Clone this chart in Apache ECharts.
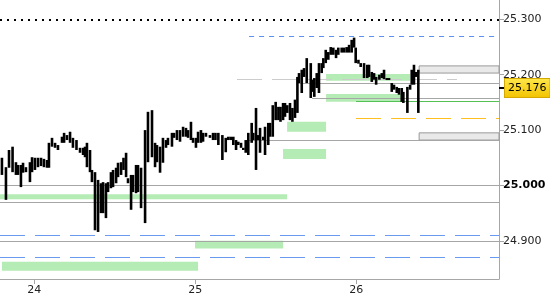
<!DOCTYPE html>
<html><head><meta charset="utf-8">
<script src="https://cdn.jsdelivr.net/npm/echarts@6/dist/echarts.min.js"></script>
<style>html,body{margin:0;padding:0;background:#fff}#c{width:550px;height:300px}</style>
</head><body><div id="c"></div>
<script>
// ---- data ----
const barTimes = [23.799,23.824,23.843,23.865,23.886,23.899,23.917,23.930,23.948,23.973,
23.986,24.004,24.023,24.042,24.060,24.079,24.091,24.110,24.129,24.147,
24.172,24.185,24.203,24.222,24.240,24.262,24.284,24.303,24.315,24.327,
24.346,24.358,24.377,24.396,24.414,24.427,24.445,24.458,24.476,24.489,
24.508,24.520,24.539,24.554,24.570,24.582,24.601,24.613,24.632,24.644,
24.663,24.688,24.706,24.731,24.750,24.762,24.781,24.799,24.818,24.830,
24.855,24.868,24.886,24.905,24.924,24.942,24.955,24.973,24.986,25.004,
25.017,25.035,25.048,25.066,25.091,25.110,25.125,25.143,25.168,25.189,
25.205,25.220,25.236,25.253,25.267,25.284,25.298,25.313,25.329,25.350,
25.360,25.377,25.391,25.402,25.422,25.433,25.453,25.464,25.481,25.499,
25.516,25.529,25.545,25.557,25.571,25.588,25.603,25.619,25.634,25.644,
25.661,25.675,25.692,25.717,25.727,25.739,25.754,25.768,25.785,25.795,
25.810,25.826,25.841,25.857,25.874,25.888,25.909,25.924,25.940,25.955,
25.971,25.986,25.996,26.013,26.027,26.048,26.068,26.079,26.096,26.110,
26.123,26.143,26.158,26.172,26.189,26.203,26.220,26.234,26.251,26.265,
26.282,26.292,26.317,26.334,26.344,26.358,26.371,26.385];
const barHighs = [25.050,25.033,25.064,25.070,25.042,25.037,25.037,25.041,25.033,25.042,
25.051,25.050,25.050,25.050,25.048,25.046,25.077,25.086,25.077,25.073,
25.088,25.095,25.091,25.097,25.086,25.082,25.068,25.068,25.070,25.077,
25.064,25.028,25.024,25.010,25.004,25.006,25.004,25.006,25.024,25.028,
25.032,25.041,25.042,25.050,25.059,25.013,25.019,25.019,25.037,25.037,
25.032,25.100,25.133,25.136,25.077,25.073,25.070,25.086,25.082,25.086,
25.095,25.095,25.100,25.100,25.106,25.104,25.100,25.115,25.086,25.086,
25.097,25.100,25.095,25.095,25.091,25.095,25.095,25.095,25.091,25.086,
25.088,25.088,25.088,25.082,25.079,25.077,25.068,25.082,25.095,25.113,
25.095,25.140,25.091,25.104,25.088,25.106,25.113,25.113,25.145,25.151,
25.142,25.142,25.149,25.149,25.145,25.149,25.140,25.155,25.196,25.203,
25.209,25.212,25.230,25.221,25.191,25.194,25.203,25.221,25.221,25.230,
25.245,25.241,25.250,25.249,25.245,25.249,25.249,25.249,25.250,25.254,
25.263,25.267,25.249,25.227,25.221,25.221,25.218,25.218,25.205,25.203,
25.196,25.200,25.203,25.209,25.194,25.194,25.185,25.182,25.178,25.176,
25.176,25.169,25.178,25.182,25.209,25.218,25.205,25.209];
const barLows = [25.019,24.974,25.032,25.024,25.019,25.019,24.997,25.023,25.024,25.006,
25.024,25.028,25.033,25.035,25.033,25.032,25.032,25.070,25.068,25.064,
25.077,25.077,25.082,25.077,25.068,25.064,25.059,25.055,25.051,25.033,
25.024,25.006,24.919,24.916,24.950,24.950,24.941,24.988,24.995,24.997,
25.004,25.015,25.019,25.028,25.015,25.004,24.956,24.988,24.986,24.988,
24.959,24.932,25.042,25.051,25.033,25.042,25.023,25.041,25.068,25.073,
25.070,25.086,25.082,25.079,25.088,25.088,25.086,25.082,25.077,25.068,
25.077,25.077,25.079,25.088,25.086,25.082,25.082,25.073,25.046,25.060,
25.082,25.082,25.073,25.064,25.073,25.068,25.064,25.059,25.055,25.077,
25.082,25.028,25.082,25.059,25.082,25.055,25.073,25.088,25.088,25.118,
25.118,25.115,25.118,25.124,25.131,25.118,25.115,25.122,25.131,25.185,
25.167,25.196,25.185,25.158,25.169,25.160,25.176,25.167,25.203,25.212,
25.221,25.227,25.236,25.236,25.230,25.236,25.240,25.240,25.240,25.240,
25.240,25.249,25.221,25.220,25.214,25.194,25.194,25.196,25.187,25.191,
25.182,25.191,25.194,25.192,25.191,25.191,25.169,25.173,25.167,25.164,
25.151,25.149,25.131,25.173,25.182,25.182,25.196,25.131];
const lastPrice = 25.176;

const xMin = 23.787, xMax = 26.886, yMin = 24.831, yMax = 25.335;
const dayTicks = [24, 25, 26];
const priceTicks = [24.9, 25.0, 25.1, 25.2, 25.3];

// horizontal levels
const lineLevels = [25.300, 25.270, 25.191, 25.185, 25.158, 25.153, 25.122, 25.082, 25.004, 24.974, 24.968, 24.914, 24.900, 24.867];
const lineStarts = [null, 25.334, 25.259, 25.638, 25.725, 25.998, 25.998, 25.321, null, null, null, null, null, null];
const lineEnds   = [null, 26.861, 26.625, null, null, null, null, null, null, null, null, null, null, null];
const lineKinds  = ['dotted','blueShort','lightDash','gray','gray','green','orange','gray','gray','blue','gray','blue','gray','blue'];

// green zones
const zoneLows   = [25.189, 25.151, 25.097, 25.048, 24.975, 24.886, 24.846];
const zoneHighs  = [25.2015, 25.165, 25.115, 25.066, 24.984, 24.900, 24.862];
const zoneStarts = [25.812, 25.812, 25.570, 25.545, 23.787, 24.998, 23.799];
const zoneEnds   = [26.334, 26.290, 25.812, 25.812, 25.570, 25.545, 25.017];

// grey boxes
const boxLows   = [25.203, 25.082];
const boxHighs  = [25.216, 25.095];
const boxStarts = [26.390, 26.390];

// ---- styles ----
const kindStyles = {
  dotted:   {color:'#000', width:2, type:[2,5]},
  blueShort:{color:'#5b8ff0', width:1, type:[5,5]},
  lightDash:{color:'#cccccc', width:1.2, type:[25,10]},
  gray:     {color:'#a6a6a6', width:1.2, type:'solid'},
  green:    {color:'#55c055', width:1, type:'solid'},
  orange:   {color:'#ffbf1f', width:1.2, type:[25,10]},
  blue:     {color:'#6a9af0', width:1.2, type:[25,10]}
};

const markLineData = lineLevels.map((v, i) => {
  const ls = kindStyles[lineKinds[i]];
  const style = {color: ls.color, width: ls.width, type: ls.type};
  if (lineStarts[i] === null && lineEnds[i] === null) {
    return {yAxis: v, lineStyle: style};
  }
  return [
    {coord: [lineStarts[i] === null ? xMin : lineStarts[i], v], lineStyle: style},
    {coord: [lineEnds[i] === null ? xMax : lineEnds[i], v]}
  ];
});

const markAreaData = zoneLows.map((lo, i) => [
  {coord: [zoneStarts[i], zoneHighs[i]], itemStyle: {color: '#b5ebb5'}},
  {coord: [zoneEnds[i], lo]}
]).concat(boxLows.map((lo, i) => [
  {coord: [boxStarts[i], boxHighs[i]], itemStyle: {color: '#e9e9e9', borderColor: '#9a9a9a', borderWidth: 1}},
  {coord: [xMax, lo]}
]));

const bars = barTimes.map((t, i) => [t, barLows[i], barHighs[i]]);

const chart = echarts.init(document.getElementById('c'), null, {renderer: 'canvas'});
const font = 'DejaVu Sans';
chart.setOption({
  animation: false,
  backgroundColor: '#fff',
  grid: {left: 0, right: 51, top: 0, bottom: 21, containLabel: false},
  xAxis: {
    type: 'value', min: xMin, max: xMax,
    axisLine: {show: true, lineStyle: {color: '#a6a6a6', width: 1}},
    axisTick: {show: true, length: 5, lineStyle: {color: '#a6a6a6'}, customValues: dayTicks},
    axisLabel: {customValues: dayTicks, color: '#222', fontFamily: font, fontSize: 11, margin: 6,
      formatter: v => String(Math.round(v))},
    splitLine: {show: false}
  },
  yAxis: {
    type: 'value', position: 'right', min: yMin, max: yMax, scale: true,
    axisLine: {show: true, lineStyle: {color: '#a6a6a6', width: 1}},
    axisTick: {show: true, length: 5, lineStyle: {color: '#a6a6a6'}, customValues: priceTicks},
    axisLabel: {customValues: priceTicks, color: '#222', fontFamily: font, fontSize: 11, margin: 4,
      formatter: v => Math.abs(v - 25) < 1e-9 ? '{b|' + v.toFixed(3) + '}' : v.toFixed(3),
      rich: {b: {fontWeight: 'bold', fontFamily: font, fontSize: 11, color: '#000'}}},
    splitLine: {show: false}
  },
  series: [
    {
      type: 'line', data: [], z: 1, silent: true,
      markArea: {silent: true, data: markAreaData},
      markLine: {silent: true, symbol: 'none', label: {show: false}, animation: false, data: markLineData}
    },
    {
      type: 'custom', z: 5, silent: true,
      data: bars,
      encode: {x: 0, y: [1, 2]},
      clip: false,
      renderItem: function (params, api) {
        const t = api.value(0), lo = api.value(1), hi = api.value(2);
        const pTop = api.coord([t, hi]);
        const pBot = api.coord([t, lo]);
        return {
          type: 'rect',
          shape: {x: pTop[0] - 1.3, y: pTop[1], width: 2.6, height: Math.max(pBot[1] - pTop[1], 2)},
          style: {fill: '#000'}
        };
      }
    },
    {
      type: 'line', data: [], z: 6, silent: true, clip: false,
      markLine: {
        silent: true, symbol: 'none', animation: false, precision: 3,
        lineStyle: {color: 'rgba(0,0,0,0)', width: 0, opacity: 1},
        label: {
          show: true, position: 'end', distance: 0, opacity: 1,
          formatter: p => '{t| }{b|' + Number(p.value).toFixed(3) + '}',
          rich: {
            t: {width: 6, height: 2, lineHeight: 2, fontSize: 1, backgroundColor: '#000'},
            b: {fontFamily: font, fontSize: 11, color: '#000', padding: [4, 3, 3, 3],
                borderColor: '#d4a800', borderWidth: 1,
                backgroundColor: new echarts.graphic.LinearGradient(0, 0, 0, 1, [
                  {offset: 0, color: '#ffe84a'}, {offset: 1, color: '#f2c200'}])}
          }
        },
        data: [{yAxis: lastPrice}]
      }
    }
  ]
});
</script>
</body></html>
